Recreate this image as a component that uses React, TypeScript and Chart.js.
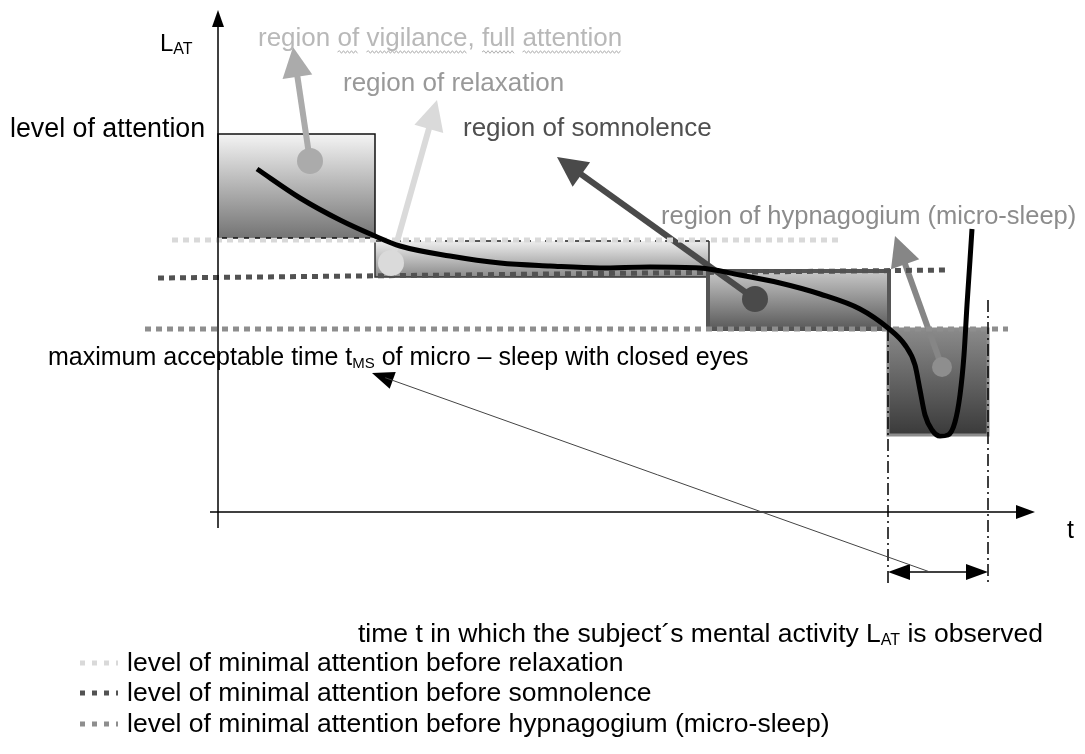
import React, { useEffect, useRef } from "react";
import { Chart, registerables } from "chart.js";

Chart.register(...registerables);

// ---------- axis ranges (t = time, L = level of attention) ----------
const T_MIN = -4.36;
const T_MAX = 17.34;
const L_MIN = -4.84;
const L_MAX = 10.24;

// ---------- attention curve L_AT(t) ----------
const curveT = [0.78, 1.64, 2.44, 3.14, 3.64, 4.64, 5.64, 6.64, 7.64, 8.64, 9.64, 10.44, 11.24, 12.04, 12.84, 13.4, 13.74, 13.94, 14.04, 14.14, 14.28, 14.44, 14.6, 14.74, 14.84, 14.92, 14.98, 15.04, 15.08];
const curveL = [6.86, 6.28, 5.84, 5.52, 5.32, 5.12, 4.98, 4.92, 4.88, 4.9, 4.88, 4.74, 4.58, 4.36, 4.06, 3.68, 3.34, 2.94, 2.44, 1.94, 1.64, 1.52, 1.54, 1.8, 2.34, 3.14, 4.14, 5.04, 5.66];

// ---------- regions (boxes) ----------
const regionNames = ["vigilance", "relaxation", "somnolence", "hypnagogium"];
const regionT0 = [0, 3.14, 9.8, 13.4];
const regionT1 = [3.14, 9.82, 13.42, 15.4];
const regionLTop = [7.56, 5.42, 4.82, 3.66];
const regionLBottom = [5.48, 4.7, 3.66, 1.54];

// region markers (circle) and where their arrows point
const markerT = [1.84, 3.46, 10.74, 14.48];
const markerL = [7.02, 4.98, 4.26, 2.9];
const tipT = [1.5, 4.38, 6.78, 13.54];
const tipL = [9.3, 8.24, 7.1, 5.52];

// ---------- threshold levels (dotted) ----------
const thresholdNames = ["relaxation", "somnolence", "hypnagogium (micro-sleep)"];
const thresholdT0 = [-0.92, -1.2, -1.46];
const thresholdT1 = [12.5, 14.58, 15.8];
const thresholdL0 = [5.44, 4.68, 3.66];
const thresholdL1 = [5.44, 4.84, 3.66];

// ---------- observation window t_MS ----------
const windowT = [13.4, 15.4];
const windowLTop = [3.66, 4.24];
const windowLBottom = -1.46;
const windowArrowL = -1.2;
const tmsArrowFrom = [14.24, -1.2];
const tmsArrowTo = [3.08, 2.78];

// ---------- styles ----------
const FONT = '"Liberation Sans", Arial, Helvetica, sans-serif';
const regionFillTop = ["#f4f4f4", "#eeeeee", "#c8c8c8", "#8a8a8a"];
const regionFillBottom = ["#747474", "#8a8a8a", "#5a5a5a", "#3a3a3a"];
const regionBorder = ["#111111", "#222222", "#555555", "#8c8c8c"];
const regionBorderW = [1.5, 1.5, 4, 3];
const regionArrowColor = ["#ababab", "#dadada", "#4a4a4a", "#868686"];
const markerColor = ["#ababab", "#dadada", "#4a4a4a", "#8e8e8e"];
const markerRadius = [13, 13, 13, 10];
const thresholdColor = ["#d9d9d9", "#525252", "#8e8e8e"];

type Part = [string, boolean];
const labels: { parts: Part[]; t: number; l: number; color: string; size: number; sub?: number; squiggle?: boolean }[] = [
  { parts: [["region of vigilance, full attention", false]], t: 0.8, l: 9.32, color: "#b8b8b8", size: 26, squiggle: true },
  { parts: [["region of relaxation", false]], t: 2.5, l: 8.42, color: "#999999", size: 26 },
  { parts: [["region of somnolence", false]], t: 4.9, l: 7.52, color: "#4f4f4f", size: 26 },
  { parts: [["region of hypnagogium (micro-sleep)", false]], t: 8.86, l: 5.76, color: "#8c8c8c", size: 25.5 },
  { parts: [["level of attention", false]], t: -4.16, l: 7.5, color: "#000000", size: 26.8 },
  { parts: [["L", false], ["AT", true]], t: -1.16, l: 9.22, color: "#000000", size: 24, sub: 16 },
  { parts: [["maximum acceptable time t", false], ["MS", true], [" of micro \u2013 sleep with closed eyes", false]], t: -3.4, l: 2.94, color: "#000000", size: 25, sub: 15 },
  { parts: [["t", false]], t: 16.98, l: -0.52, color: "#000000", size: 25 },
  { parts: [["time t in which the subject\u00b4s mental activity L", false], ["AT", true], [" is observed", false]], t: 2.8, l: -2.6, color: "#000000", size: 26.5, sub: 16 },
];
const LEGEND_SIZE = 26.5;
const legendT0 = -2.76;
const legendT1 = -2.0;
const legendTextT = -1.82;
const legendL = [-3.18, -3.78, -4.4];

function head(ctx: CanvasRenderingContext2D, x0: number, y0: number, x1: number, y1: number, len: number, half: number, color: string) {
  const a = Math.atan2(y1 - y0, x1 - x0);
  const c = Math.cos(a), s = Math.sin(a);
  ctx.beginPath();
  ctx.moveTo(x1, y1);
  ctx.lineTo(x1 - len * c + half * s, y1 - len * s - half * c);
  ctx.lineTo(x1 - len * c - half * s, y1 - len * s + half * c);
  ctx.closePath();
  ctx.fillStyle = color;
  ctx.fill();
}

function arrow(ctx: CanvasRenderingContext2D, x0: number, y0: number, x1: number, y1: number, w: number, len: number, half: number, color: string) {
  const a = Math.atan2(y1 - y0, x1 - x0);
  ctx.beginPath();
  ctx.moveTo(x0, y0);
  ctx.lineTo(x1 - len * 0.7 * Math.cos(a), y1 - len * 0.7 * Math.sin(a));
  ctx.strokeStyle = color;
  ctx.lineWidth = w;
  ctx.setLineDash([]);
  ctx.stroke();
  head(ctx, x0, y0, x1, y1, len, half, color);
}

function squiggle(ctx: CanvasRenderingContext2D, x0: number, x1: number, y: number) {
  ctx.beginPath();
  let up = true;
  ctx.moveTo(x0, y);
  for (let x = x0 + 2; x <= x1; x += 2) {
    ctx.lineTo(x, up ? y - 1.3 : y + 1.3);
    up = !up;
  }
  ctx.strokeStyle = "#b0b0b0";
  ctx.lineWidth = 1;
  ctx.stroke();
}

const diagramPlugin = {
  id: "diagram",
  beforeDatasetsDraw(chart: any) {
    const ctx: CanvasRenderingContext2D = chart.ctx;
    const xs = chart.scales.x, ys = chart.scales.y;
    ctx.save();
    // region boxes
    for (let i = 0; i < regionNames.length; i++) {
      const x0 = xs.getPixelForValue(regionT0[i]);
      const x1 = xs.getPixelForValue(regionT1[i]);
      const y0 = ys.getPixelForValue(regionLTop[i]);
      const y1 = ys.getPixelForValue(regionLBottom[i]);
      const g = ctx.createLinearGradient(0, y0, 0, y1);
      g.addColorStop(0, regionFillTop[i]);
      g.addColorStop(1, regionFillBottom[i]);
      ctx.fillStyle = g;
      ctx.fillRect(x0, y0, x1 - x0, y1 - y0);
      ctx.strokeStyle = regionBorder[i];
      ctx.lineWidth = regionBorderW[i];
      if (i === 1) {
        ctx.setLineDash([6, 4]);
        ctx.beginPath();
        ctx.moveTo(x0, y0);
        ctx.lineTo(x1, y0);
        ctx.stroke();
        ctx.setLineDash([]);
        ctx.beginPath();
        ctx.moveTo(x1, y0);
        ctx.lineTo(x1, y1);
        ctx.lineTo(x0, y1);
        ctx.lineTo(x0, y0);
        ctx.strokeStyle = "#333333";
        ctx.stroke();
      } else {
        ctx.setLineDash([]);
        ctx.strokeRect(x0, y0, x1 - x0, y1 - y0);
      }
    }
    // region arrows
    for (let i = 0; i < regionNames.length; i++) {
      const x0 = xs.getPixelForValue(markerT[i]);
      const y0 = ys.getPixelForValue(markerL[i]);
      const x1 = xs.getPixelForValue(tipT[i]);
      const y1 = ys.getPixelForValue(tipL[i]);
      arrow(ctx, x0, y0, x1, y1, 6, 30, 15, regionArrowColor[i]);
    }
    ctx.restore();
  },
  afterDatasetsDraw(chart: any) {
    const ctx: CanvasRenderingContext2D = chart.ctx;
    const xs = chart.scales.x, ys = chart.scales.y;
    const px = (t: number) => xs.getPixelForValue(t);
    const py = (l: number) => ys.getPixelForValue(l);
    ctx.save();
    ctx.setLineDash([]);
    // axes
    ctx.strokeStyle = "#000";
    ctx.lineWidth = 1.5;
    ctx.beginPath();
    ctx.moveTo(px(0), py(-0.32));
    ctx.lineTo(px(0), py(9.8));
    ctx.stroke();
    head(ctx, px(0), py(0), px(0), py(10.04), 17, 6, "#000");
    ctx.beginPath();
    ctx.moveTo(px(-0.16), py(0));
    ctx.lineTo(px(16.0), py(0));
    ctx.stroke();
    head(ctx, px(0), py(0), px(16.34), py(0), 19, 7, "#000");

    // window double arrow
    const wy = py(windowArrowL);
    ctx.lineWidth = 1.5;
    ctx.beginPath();
    ctx.moveTo(px(windowT[0]) + 10, wy);
    ctx.lineTo(px(windowT[1]) - 10, wy);
    ctx.stroke();
    head(ctx, px(windowT[1]), wy, px(windowT[0]), wy, 22, 8, "#000");
    head(ctx, px(windowT[0]), wy, px(windowT[1]), wy, 22, 8, "#000");

    // thin arrow to t_MS label
    const ax0 = px(tmsArrowFrom[0]), ay0 = py(tmsArrowFrom[1]);
    const ax1 = px(tmsArrowTo[0]), ay1 = py(tmsArrowTo[1]);
    head(ctx, ax0, ay0, ax1, ay1, 22, 9, "#000");
    const back = Math.atan2(ay0 - ay1, ax0 - ax1);
    ctx.beginPath();
    ctx.moveTo(ax0, ay0);
    ctx.lineTo(ax1 + 14 * Math.cos(back), ay1 + 14 * Math.sin(back));
    ctx.strokeStyle = "#444";
    ctx.lineWidth = 1;
    ctx.stroke();

    // labels
    ctx.textBaseline = "alphabetic";
    ctx.textAlign = "left";
    for (const lb of labels) {
      let x = px(lb.t);
      const y = py(lb.l);
      ctx.fillStyle = lb.color;
      lb.parts.forEach(([txt, sub]) => {
        ctx.font = `${sub ? lb.sub || 15 : lb.size}px ${FONT}`;
        ctx.fillText(txt, x, sub ? y + 3 : y);
        x += ctx.measureText(txt).width;
      });
      if (lb.squiggle) {
        ctx.font = `${lb.size}px ${FONT}`;
        const full = lb.parts[0][0];
        const words = full.split(" ");
        let cx = px(lb.t);
        words.forEach((w, k) => {
          const clean = w.replace(",", "");
          const ww = ctx.measureText(clean).width;
          if (k > 0) squiggle(ctx, cx, cx + ww, y + 6);
          cx += ctx.measureText(w + " ").width;
        });
      }
    }

    // legend
    for (let i = 0; i < thresholdNames.length; i++) {
      const y = py(legendL[i]);
      ctx.beginPath();
      ctx.setLineDash([5, 7]);
      ctx.strokeStyle = thresholdColor[i];
      ctx.lineWidth = 5;
      ctx.moveTo(px(legendT0), y - 8);
      ctx.lineTo(px(legendT1), y - 8);
      ctx.stroke();
      ctx.setLineDash([]);
      ctx.fillStyle = "#000";
      ctx.font = `${LEGEND_SIZE}px ${FONT}`;
      ctx.fillText("level of minimal attention before " + thresholdNames[i], px(legendTextT), y);
    }
    ctx.restore();
  },
};

export default function App() {
  const ref = useRef<HTMLCanvasElement | null>(null);
  useEffect(() => {
    if (!ref.current) return;
    const datasets: any[] = [];
    datasets.push({
      label: "L_AT",
      data: curveT.map((t, i) => ({ x: t, y: curveL[i] })),
      borderColor: "#000",
      borderWidth: 5,
      pointRadius: 0,
      cubicInterpolationMode: "monotone",
      order: 0,
    });
    datasets.push({
      label: "markers",
      data: markerT.map((t, i) => ({ x: t, y: markerL[i] })),
      showLine: false,
      pointRadius: markerRadius,
      pointBackgroundColor: markerColor,
      pointBorderWidth: 0,
      order: 1,
    });
    thresholdNames.forEach((n, i) => {
      datasets.push({
        label: n,
        data: [
          { x: thresholdT0[i], y: thresholdL0[i] },
          { x: thresholdT1[i], y: thresholdL1[i] },
        ],
        borderColor: thresholdColor[i],
        borderWidth: 5,
        borderDash: [6, 5],
        borderCapStyle: "butt",
        pointRadius: 0,
        tension: 0,
        order: 2 + i,
      });
    });
    windowT.forEach((t, i) => {
      datasets.push({
        label: "window" + i,
        data: [
          { x: t, y: windowLTop[i] },
          { x: t, y: windowLBottom },
        ],
        borderColor: "#000",
        borderWidth: 1.5,
        borderDash: [12, 4, 2, 4],
        pointRadius: 0,
        tension: 0,
        order: 1,
      });
    });
    const chart = new Chart(ref.current, {
      type: "line",
      data: { datasets },
      options: {
        animation: false,
        responsive: false,
        events: [],
        layout: { padding: 0, autoPadding: false },
        plugins: { legend: { display: false }, tooltip: { enabled: false } },
        scales: {
          x: { type: "linear", min: T_MIN, max: T_MAX, display: false },
          y: { type: "linear", min: L_MIN, max: L_MAX, display: false },
        },
      },
      plugins: [diagramPlugin],
    } as any);
    return () => chart.destroy();
  }, []);
  return (
    <div style={{ position: "fixed", left: 0, top: 0, width: 1085, height: 754, background: "#fff" }}>
      <canvas ref={ref} width={1085} height={754} style={{ display: "block" }} />
    </div>
  );
}
